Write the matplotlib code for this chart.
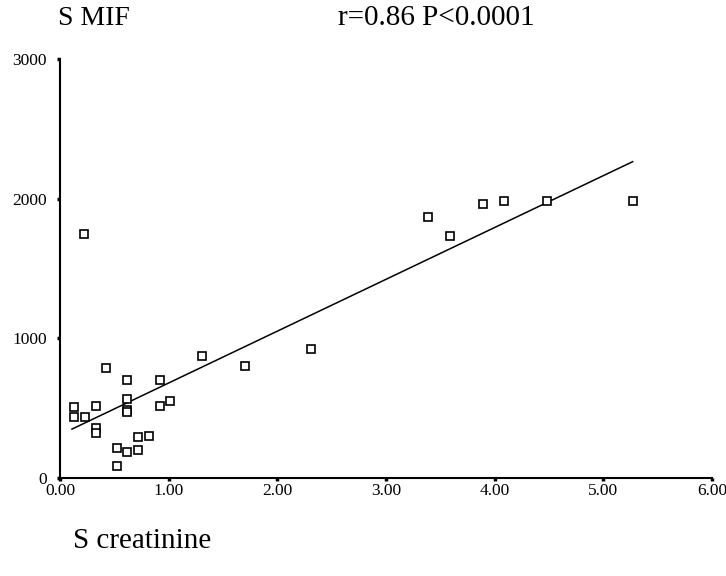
import matplotlib
matplotlib.use("Agg")
import matplotlib.pyplot as plt

plt.rcParams['font.family'] = ['Liberation Serif', 'DejaVu Serif']

# Data
creatinine = [0.13, 0.13, 0.23, 0.22, 0.33, 0.33, 0.33, 0.42, 0.52, 0.52,
              0.62, 0.62, 0.62, 0.62, 0.62, 0.72, 0.72, 0.82, 0.92, 0.92,
              1.01, 1.31, 1.70, 2.31, 3.39, 3.59, 3.89, 4.09, 4.48, 5.27]
mif = [506, 436, 436, 1748, 518, 360, 324, 791, 212, 88,
       700, 566, 485, 472, 188, 291, 200, 303, 700, 518,
       551, 870, 803, 927, 1872, 1736, 1963, 1985, 1985, 1985]
fit_x = [0.11, 5.27]
fit_y = [350, 2265]

x_ticks = [0, 1, 2, 3, 4, 5, 6]
x_ticklabels = ["0.00", "1.00", "2.00", "3.00", "4.00", "5.00", "6.00"]
y_ticks = [0, 1000, 2000, 3000]
y_ticklabels = ["0", "1000", "2000", "3000"]

fig = plt.figure(figsize=(7.26, 5.76), dpi=100)
ax = fig.add_axes([60/726, 1 - 478/576, (712-60)/726, (478-59)/576])

ax.plot(fit_x, fit_y, color='black', lw=1.1)
ax.plot(creatinine, mif, linestyle='none', marker='s', markersize=6,
        markerfacecolor='white', markeredgecolor='black', markeredgewidth=1.2)

ax.set_xlim(0, 6)
ax.set_ylim(0, 3000)
ax.set_xticks(x_ticks)
ax.set_xticklabels(x_ticklabels)
ax.set_yticks(y_ticks)
ax.set_yticklabels(y_ticklabels)
for s in ['top', 'right']:
    ax.spines[s].set_visible(False)
for s in ['left', 'bottom']:
    ax.spines[s].set_linewidth(1.5)
ax.tick_params(axis='both', direction='out', length=2.5, width=2.5, labelsize=12.5)
ax.tick_params(axis='y', pad=7)
ax.tick_params(axis='x', pad=1)

fig.text(58/726, 1 - 25/576, "S MIF", fontsize=20, ha='left', va='baseline')
fig.text(338/726, 1 - 25/576, "r=0.86 P<0.0001", fontsize=21, ha='left', va='baseline')
fig.text(73/726, 1 - 548/576, "S creatinine", fontsize=21, ha='left', va='baseline')

fig.savefig("out.png", dpi=100)
